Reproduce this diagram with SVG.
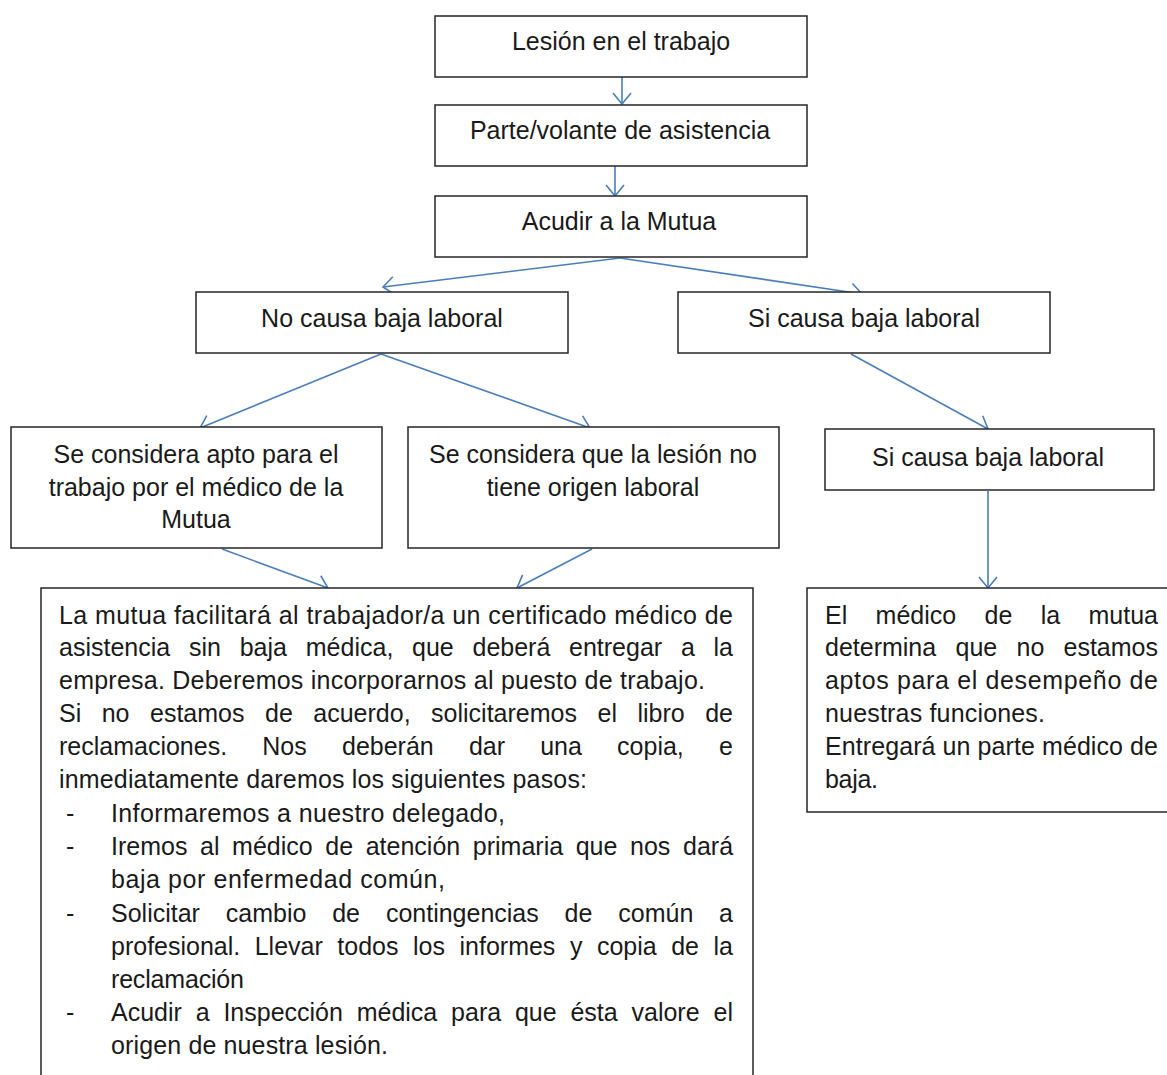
<svg xmlns="http://www.w3.org/2000/svg" width="1167" height="1075" viewBox="0 0 1167 1075">
<style>
.bx{fill:#fff;stroke:#262626;stroke-width:1.5}
.t{font-family:"Liberation Sans",Arial,sans-serif;font-size:25px;fill:#1a1a1a}
.c{text-anchor:middle}
.cn{fill:none;stroke:#4a7ebb;stroke-width:1.6;marker-end:url(#ah)}
</style>
<defs>
<marker id="ah" markerWidth="30" markerHeight="30" refX="15" refY="15" orient="auto" markerUnits="userSpaceOnUse" viewBox="0 0 30 30">
<path d="M4,6 L15,15 L4,24" fill="none" stroke="#4a7ebb" stroke-width="1.6"/>
</marker>
</defs>
<rect width="1167" height="1075" fill="#fff"/>

<g id="connectors">
<line class="cn" x1="622" y1="77" x2="622" y2="104"/>
<line class="cn" x1="615" y1="166" x2="615" y2="196"/>
<line class="cn" x1="620" y1="258" x2="383" y2="287"/>
<line class="cn" x1="620" y1="258" x2="862" y2="294"/>
<line class="cn" x1="381" y1="354" x2="200" y2="428"/>
<line class="cn" x1="381" y1="354" x2="590" y2="428"/>
<line class="cn" x1="851" y1="354" x2="988" y2="429"/>
<line class="cn" x1="988" y1="491" x2="988" y2="588"/>
<line class="cn" x1="222" y1="549" x2="328" y2="588"/>
<line class="cn" x1="592" y1="549" x2="517" y2="588"/>
</g>

<g id="n1">
<rect class="bx" x="435" y="16" width="372" height="61"/>
<text class="t c" x="621" y="50">Lesión en el trabajo</text>
</g>
<g id="n2">
<rect class="bx" x="435" y="105" width="372" height="61"/>
<text class="t c" x="620" y="139">Parte/volante de asistencia</text>
</g>
<g id="n3">
<rect class="bx" x="435" y="196" width="372" height="61"/>
<text class="t c" x="619" y="230">Acudir a la Mutua</text>
</g>
<g id="n4">
<rect class="bx" x="196" y="292" width="372" height="61"/>
<text class="t c" x="382" y="327">No causa baja laboral</text>
</g>
<g id="n5">
<rect class="bx" x="678" y="292" width="372" height="61"/>
<text class="t c" x="864" y="327">Si causa baja laboral</text>
</g>
<g id="n6">
<rect class="bx" x="11" y="427" width="371" height="121"/>
<text class="t c" x="196" y="463">Se considera apto para el</text>
<text class="t c" x="196" y="496">trabajo por el médico de la</text>
<text class="t c" x="196" y="528">Mutua</text>
</g>
<g id="n7">
<rect class="bx" x="408" y="427" width="371" height="121"/>
<text class="t c" x="593" y="463">Se considera que la lesión no</text>
<text class="t c" x="593" y="496">tiene origen laboral</text>
</g>
<g id="n8">
<rect class="bx" x="825" y="429" width="329" height="61"/>
<text class="t c" x="988" y="466">Si causa baja laboral</text>
</g>

<g id="n9">
<rect class="bx" x="41" y="588" width="712" height="510"/>
<text class="t" x="59" y="624" textLength="674" lengthAdjust="spacing">La mutua facilitará al trabajador/a un certificado médico de</text>
<text class="t" y="656"><tspan x="59">asistencia</tspan><tspan x="189">sin</tspan><tspan x="239.7">baja</tspan><tspan x="305.8">médica,</tspan><tspan x="412">que</tspan><tspan x="472.5">deberá</tspan><tspan x="569">entregar</tspan><tspan x="680.9">a</tspan><tspan x="713.5">la</tspan></text>
<text class="t" x="59" y="689" textLength="646" lengthAdjust="spacing">empresa. Deberemos incorporarnos al puesto de trabajo.</text>
<text class="t" y="722"><tspan x="59">Si</tspan><tspan x="101.7">no</tspan><tspan x="150">estamos</tspan><tspan x="265">de</tspan><tspan x="313.3">acuerdo,</tspan><tspan x="431.1">solicitaremos</tspan><tspan x="597.5">el</tspan><tspan x="637.5">libro</tspan><tspan x="705.2">de</tspan></text>
<text class="t" y="755"><tspan x="59">reclamaciones.</tspan><tspan x="262.3">Nos</tspan><tspan x="342">deberán</tspan><tspan x="468.9">dar</tspan><tspan x="540.2">una</tspan><tspan x="617.1">copia,</tspan><tspan x="719.1">e</tspan></text>
<text class="t" x="59" y="788" textLength="528" lengthAdjust="spacing">inmediatamente daremos los siguientes pasos:</text>
<text class="t" x="66" y="822">-</text>
<text class="t" x="111" y="822" textLength="394" lengthAdjust="spacing">Informaremos a nuestro delegado,</text>
<text class="t" x="66" y="855">-</text>
<text class="t" y="855"><tspan x="111">Iremos</tspan><tspan x="200">al</tspan><tspan x="232.1">médico</tspan><tspan x="325.3">de</tspan><tspan x="365.7">atención</tspan><tspan x="472.8">primaria</tspan><tspan x="575.7">que</tspan><tspan x="630">nos</tspan><tspan x="683">dará</tspan></text>
<text class="t" x="111" y="888" textLength="334" lengthAdjust="spacing">baja por enfermedad común,</text>
<text class="t" x="66" y="922">-</text>
<text class="t" y="922"><tspan x="111">Solicitar</tspan><tspan x="225.8">cambio</tspan><tspan x="332.2">de</tspan><tspan x="385.9">contingencias</tspan><tspan x="564.6">de</tspan><tspan x="618.3">común</tspan><tspan x="719.1">a</tspan></text>
<text class="t" y="955"><tspan x="111">profesional.</tspan><tspan x="254.7">Llevar</tspan><tspan x="337.3">todos</tspan><tspan x="413">los</tspan><tspan x="459.5">informes</tspan><tspan x="569.9">y</tspan><tspan x="596.9">copia</tspan><tspan x="671.2">de</tspan><tspan x="713.5">la</tspan></text>
<text class="t" x="111" y="988" textLength="133" lengthAdjust="spacing">reclamación</text>
<text class="t" x="66" y="1021">-</text>
<text class="t" y="1021"><tspan x="111">Acudir</tspan><tspan x="195.7">a</tspan><tspan x="223.4">Inspección</tspan><tspan x="356.7">médica</tspan><tspan x="451.1">para</tspan><tspan x="514.9">que</tspan><tspan x="570.4">ésta</tspan><tspan x="631.5">valore</tspan><tspan x="713.5">el</tspan></text>
<text class="t" x="111" y="1054" textLength="277" lengthAdjust="spacing">origen de nuestra lesión.</text>
</g>

<g id="n10">
<rect class="bx" x="807" y="588" width="380" height="224"/>
<text class="t" y="624"><tspan x="825">El</tspan><tspan x="875.6">médico</tspan><tspan x="984.5">de</tspan><tspan x="1040.7">la</tspan><tspan x="1088.5">mutua</tspan></text>
<text class="t" y="656"><tspan x="825">determina</tspan><tspan x="955.5">que</tspan><tspan x="1016.5">no</tspan><tspan x="1063.5">estamos</tspan></text>
<text class="t" x="825" y="689" textLength="333" lengthAdjust="spacing">aptos para el desempeño de</text>
<text class="t" x="825" y="722" textLength="220" lengthAdjust="spacing">nuestras funciones.</text>
<text class="t" x="825" y="755" textLength="333" lengthAdjust="spacing">Entregará un parte médico de</text>
<text class="t" x="825" y="788" textLength="53" lengthAdjust="spacing">baja.</text>
</g>
</svg>
